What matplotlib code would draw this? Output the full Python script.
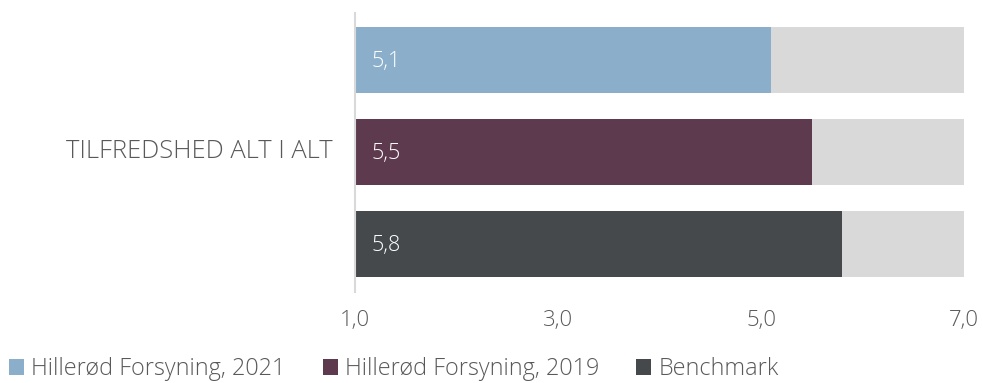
import matplotlib
matplotlib.use("Agg")
import matplotlib.pyplot as plt
from matplotlib.patches import Patch

category = "TILFREDSHED ALT I ALT"
series_names = ["Hillerød Forsyning, 2021", "Hillerød Forsyning, 2019", "Benchmark"]
values = [5.1, 5.5, 5.8]
value_labels = ["5,1", "5,5", "5,8"]
colors = ["#8BAFCB", "#5E3A4F", "#45494C"]
xticks = [1.0, 3.0, 5.0, 7.0]
xtick_labels = ["1,0", "3,0", "5,0", "7,0"]
xmin, xmax = 1.0, 7.0

plt.rcParams['font.family'] = ['Open Sans', 'DejaVu Sans']
txt = "#595959"
FW = "light"

fig = plt.figure(figsize=(9.83, 3.83), dpi=100)
ax = fig.add_axes([355/983, 1-292/383, (964-355)/983, (292-13)/383])

ypos = [0, 1, 2]
h = 66/92
ax.barh(ypos, [xmax - xmin]*3, left=xmin, height=h, color="#D9D9D9", zorder=1)
ax.barh(ypos, [v - xmin for v in values], left=xmin, height=h, color=colors, zorder=2)
for y, lab in zip(ypos, value_labels):
    ax.text(xmin + 0.16, y + 0.02, lab, color="white", fontsize=15.5, va="center", ha="left",
            fontweight=FW, zorder=3)

ax.set_xlim(xmin, xmax)
ax.set_ylim(2 + 48/92, -47/92)
ax.set_xticks(xticks)
ax.set_xticklabels(xtick_labels, fontsize=16, color=txt, fontweight=FW)
ax.tick_params(axis="x", length=0, pad=13)
ax.set_yticks([])
for s in ["top", "right", "bottom"]:
    ax.spines[s].set_visible(False)
ax.spines["left"].set_color("#D9D9D9")
ax.spines["left"].set_linewidth(1.5)

fig.text(333/983, 1-152/383, category, ha="right", va="center", fontsize=18.4,
         color=txt, fontweight=FW)

handles = [Patch(facecolor=c, edgecolor="none") for c in colors]
leg = fig.legend(handles, series_names, loc="center left", bbox_to_anchor=(0.002, 1-369/383),
                 ncol=3, frameon=False, fontsize=16.8, handlelength=0.64, handleheight=0.64,
                 handletextpad=0.3, columnspacing=1.6, borderaxespad=0, borderpad=0.3)
for t in leg.get_texts():
    t.set_color(txt)
    t.set_fontweight(FW)

fig.savefig("out.png", dpi=100)
